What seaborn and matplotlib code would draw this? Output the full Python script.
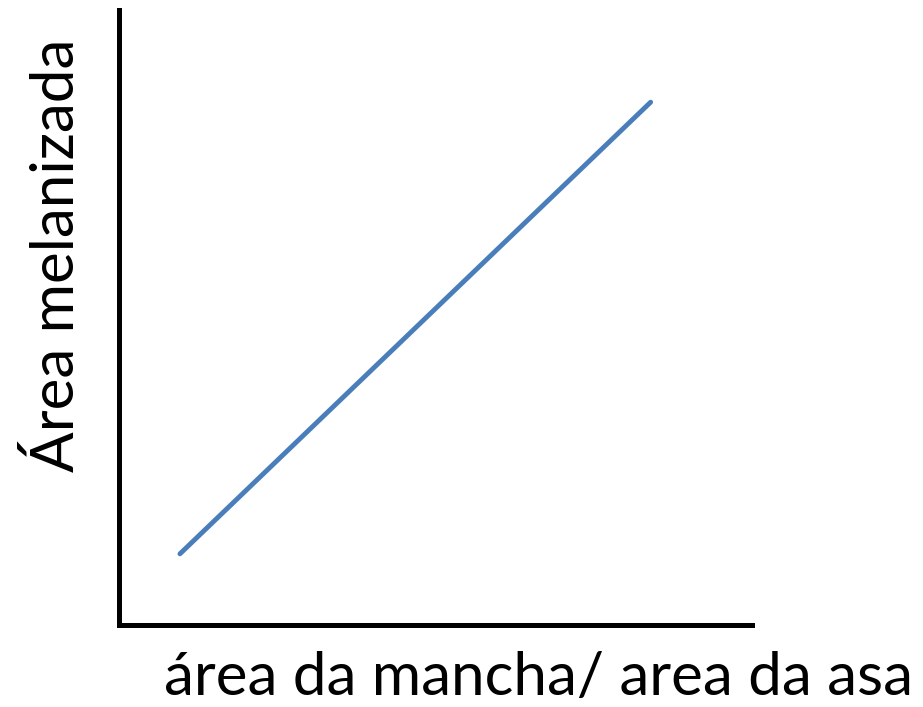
import matplotlib
matplotlib.use("Agg")
import matplotlib.pyplot as plt
import seaborn as sns
import pandas as pd

# --- Datos (esquema: relación lineal) ---
x_vals = [0.97, 8.4]
y_vals = [1.15, 8.5]
xlabel = "área da mancha/ area da asa"
ylabel = "Área melanizada"

df = pd.DataFrame({"x": x_vals, "y": y_vals})

sns.set_style("white")
plt.rcParams["font.family"] = ["Lato", "DejaVu Sans"]

W, H = 923, 707
fig = plt.figure(figsize=(W / 100, H / 100), dpi=100)
ax = fig.add_axes([118.5 / W, (H - 624.5) / H, (752 - 118.5) / W, (624.5 - 10) / H])

sns.lineplot(data=df, x="x", y="y", ax=ax, color="#4a7ebb", linewidth=3.5)

ax.set_xlim(0, 10)
ax.set_ylim(0, 10)
ax.set_xticks([])
ax.set_yticks([])
ax.set_xlabel("")
ax.set_ylabel("")
for s in ["top", "right"]:
    ax.spines[s].set_visible(False)
for s in ["left", "bottom"]:
    ax.spines[s].set_color("black")
    ax.spines[s].set_linewidth(3.6)
    ax.spines[s].set_capstyle("projecting")

fig.text(539 / W, (H - 695) / H, xlabel, ha="center", va="baseline", fontsize=43.3, color="black")
fig.text(56 / W, (H - 255) / H, ylabel, ha="center", va="center", rotation=90, fontsize=43.3, color="black")

fig.savefig("out.png", dpi=100)
